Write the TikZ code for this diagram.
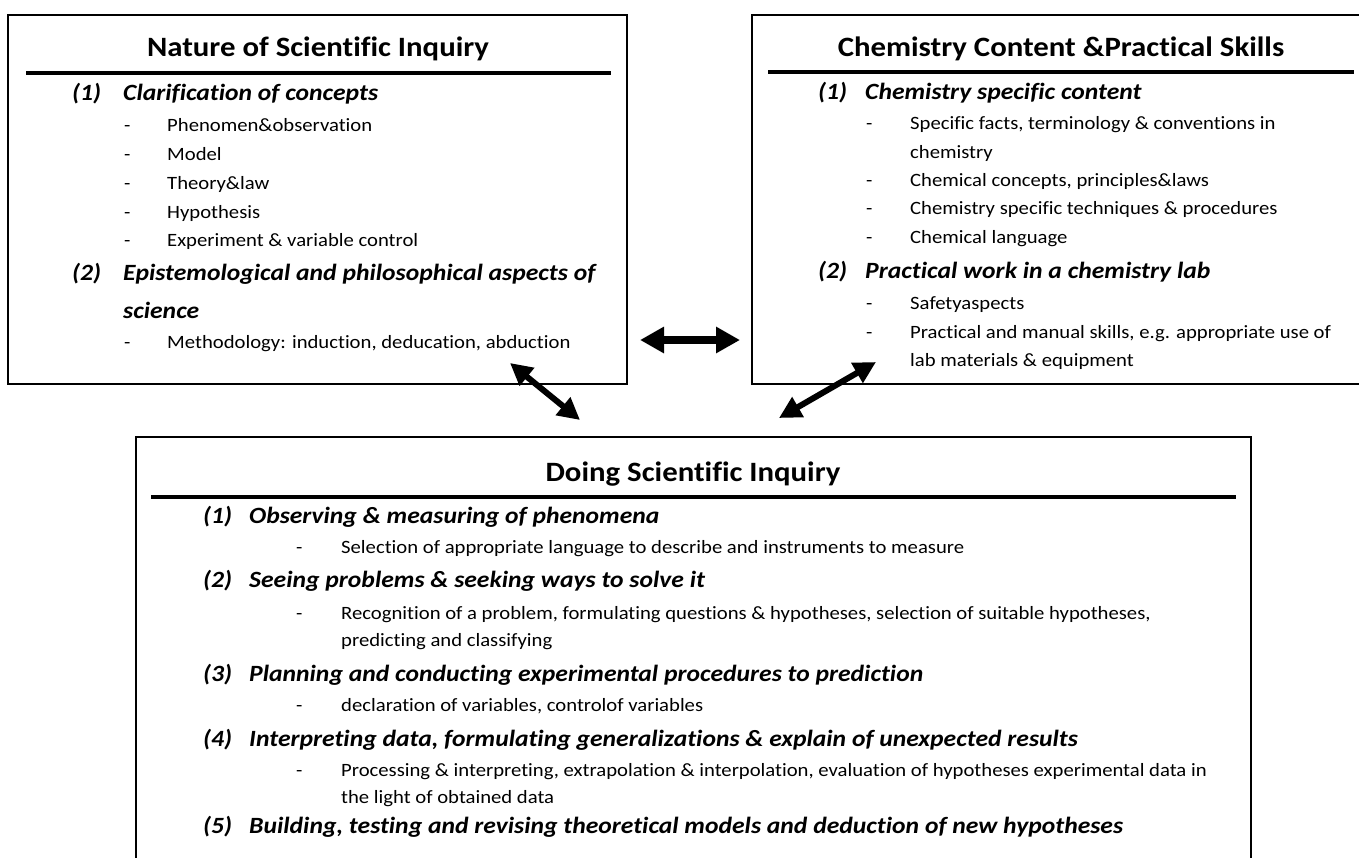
\documentclass[tikz,border=0pt]{standalone}
\usepackage{fontspec}
\setmainfont[FakeStretch=1.1, Ligatures=NoCommon]{Carlito}
\usetikzlibrary{arrows.meta}

\begin{document}
\begin{tikzpicture}[x=1pt, y=-1pt, inner sep=0pt,
  box/.style={draw, line width=1.5pt},
  rulebar/.style={line width=4.5pt},
  ttl/.style={anchor=base, font=\bfseries\fontsize{28}{32}\selectfont},
  head/.style={anchor=base west, font=\bfseries\itshape\fontsize{23.3}{27}\selectfont},
  txt/.style={anchor=base west, font=\fontsize{18.8}{22}\selectfont},
  bigboth/.style={{Triangle[length=24pt,width=25pt]}-{Triangle[length=24pt,width=25pt]}, line width=8pt},
  smallboth/.style={{Triangle[length=22pt,width=22pt]}-{Triangle[length=22pt,width=22pt]}, line width=6pt}]

  \useasboundingbox (0,0) rectangle (1359,857);

  % Nature of Scientific Inquiry
  \draw[box] (8,15) rectangle (627,384);
  \node[ttl] (natT) at (318,56) {Nature of Scientific Inquiry};
  \draw[rulebar] (26,73) -- (611,73);
  \node[head] (natN1) at (72,100) {(1)};
  \node[head] (natH1) at (123,100) {Clarification of concepts};
  \node[txt] (natD1) at (124,131) {-};
  \node[txt] (natI1) at (167,131) {Phenomen\&observation};
  \node[txt] (natD2) at (124,160) {-};
  \node[txt] (natI2) at (167,160) {Model};
  \node[txt] (natD3) at (124,189) {-};
  \node[txt] (natI3) at (167,189) {Theory\&law};
  \node[txt] (natD4) at (124,218) {-};
  \node[txt] (natI4) at (167,218) {Hypothesis};
  \node[txt] (natD5) at (124,246) {-};
  \node[txt] (natI5) at (167,246) {Experiment \& variable control};
  \node[head] (natN2) at (72,280) {(2)};
  \node[head] (natH2) at (123,280) {Epistemological and philosophical aspects of};
  \node[head] (natH2b) at (123,318) {science};
  \node[txt] (natD6) at (124,348) {-};
  \node[txt] (natI6) at (167,348) {Methodology: induction, deducation, abduction};

  % Chemistry Content & Practical Skills
  \draw[box] (752,15) rectangle (1375,384);
  \node[ttl] (chemT) at (1061,56) {Chemistry Content \&Practical Skills};
  \draw[rulebar] (768,72) -- (1354,72);
  \node[head] (chemN1) at (818,99) {(1)};
  \node[head] (chemH1) at (865,99) {Chemistry specific content};
  \node[txt] (chemD1) at (866,129) {-};
  \node[txt] (chemI1) at (910,129) {Specific facts, terminology \& conventions in};
  \node[txt] (chemI1b) at (910,158) {chemistry};
  \node[txt] (chemD2) at (866,186) {-};
  \node[txt] (chemI2) at (910,186) {Chemical concepts, principles\&laws};
  \node[txt] (chemD3) at (866,214) {-};
  \node[txt] (chemI3) at (910,214) {Chemistry specific techniques \& procedures};
  \node[txt] (chemD4) at (866,243) {-};
  \node[txt] (chemI4) at (910,243) {Chemical language};
  \node[head] (chemN2) at (818,278) {(2)};
  \node[head] (chemH2) at (865,278) {Practical work in a chemistry lab};
  \node[txt] (chemD5) at (866,309) {-};
  \node[txt] (chemI5) at (910,309) {Safetyaspects};
  \node[txt] (chemD6) at (866,338) {-};
  \node[txt] (chemI6) at (910,338) {Practical and manual skills, e.g. appropriate use of};
  \node[txt] (chemI6b) at (910,366) {lab materials \& equipment};

  % Doing Scientific Inquiry
  \draw[box] (136,437) rectangle (1251,880);
  \node[ttl] (doT) at (693,481) {Doing Scientific Inquiry};
  \draw[rulebar] (151,497) -- (1236,497);
  \node[head] (doN1) at (203,523) {(1)};
  \node[head] (doH1) at (249,523) {Observing \& measuring of phenomena};
  \node[txt] (doD1) at (296,553) {-};
  \node[txt] (doI1) at (341,553) {Selection of appropriate language to describe and instruments to measure};
  \node[head] (doN2) at (203,587) {(2)};
  \node[head] (doH2) at (249,587) {Seeing problems \& seeking ways to solve it};
  \node[txt] (doD2) at (296,619) {-};
  \node[txt] (doI2) at (341,619) {Recognition of a problem, formulating questions \& hypotheses, selection of suitable hypotheses,};
  \node[txt] (doI2b) at (341,646) {predicting and classifying};
  \node[head] (doN3) at (203,681) {(3)};
  \node[head] (doH3) at (249,681) {Planning and conducting experimental procedures to prediction};
  \node[txt] (doD3) at (296,711) {-};
  \node[txt] (doI3) at (341,711) {declaration of variables, controlof variables};
  \node[head] (doN4) at (203,746) {(4)};
  \node[head] (doH4) at (249,746) {Interpreting data, formulating generalizations \& explain of unexpected results};
  \node[txt] (doD4) at (296,776) {-};
  \node[txt] (doI4) at (341,776) {Processing \& interpreting, extrapolation \& interpolation, evaluation of hypotheses experimental data in};
  \node[txt] (doI4b) at (341,803) {the light of obtained data};
  \node[head] (doN5) at (203,833) {(5)};
  \node[head] (doH5) at (249,833) {Building, testing and revising theoretical models and deduction of new hypotheses};

  % arrows
  \coordinate (hL) at (640,340);
  \coordinate (hR) at (740,340);
  \coordinate (dLa) at (510,363);
  \coordinate (dLb) at (580,420);
  \coordinate (dRa) at (779,418);
  \coordinate (dRb) at (876,362);
  \draw[bigboth] (hL) -- (hR);
  \draw[smallboth] (dLa) -- (dLb);
  \draw[smallboth] (dRa) -- (dRb);
\end{tikzpicture}
\end{document}
